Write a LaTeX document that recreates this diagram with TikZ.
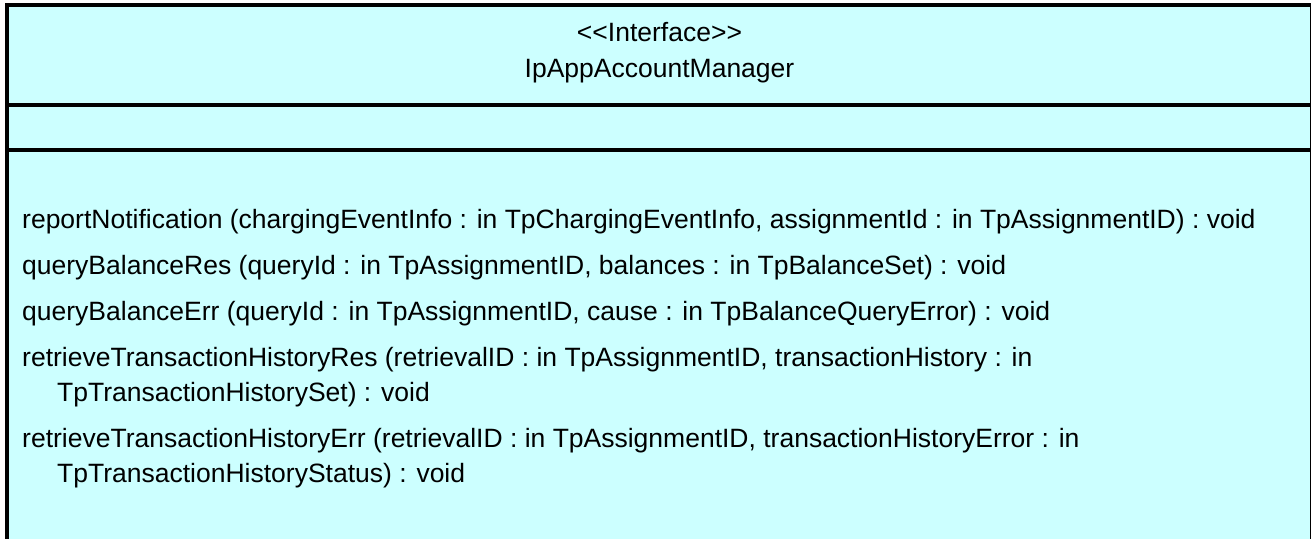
\documentclass[tikz,border=0pt]{standalone}
\usepackage{fontspec}
\setmainfont{Liberation Sans}
\definecolor{boxfill}{HTML}{CCFFFF}
\begin{document}
\begin{tikzpicture}[x=1pt,y=-1pt,
  optext/.style={anchor=base west, inner sep=0pt, font=\fontsize{26.5}{32}\selectfont},
  ttltext/.style={anchor=base, inner sep=0pt, font=\fontsize{26.5}{32}\selectfont},
  border/.style={line width=4pt, line cap=rect}]
\useasboundingbox (0,0) rectangle (1311,538);
\clip (0,0) rectangle (1311,538);
\fill[boxfill] (7,5) rectangle (1312,560);
\draw[border] (7,560) -- (7,5) -- (1312,5) -- (1312,560);
\draw[border] (7,105) -- (1312,105);
\draw[border] (7,150) -- (1312,150);
\node[ttltext] (stereo) at (659.5,41) {<\kern0pt<Interface>\kern0pt>};
\node[ttltext] (cname) at (659.5,77) {IpAppAccountManager};
\node[optext] (op1) at (22,228) {reportNotification (chargingEventInfo : in TpChargingEventInfo, assignmentId : in TpAssignmentID) : void};
\node[optext] (op2) at (22,274) {queryBalanceRes (queryId : in TpAssignmentID, balances : in TpBalanceSet) : void};
\node[optext] (op3) at (22,320) {queryBalanceErr (queryId : in TpAssignmentID, cause : in TpBalanceQueryError) : void};
\node[optext] (op4) at (22,366) {retrieveTransactionHistoryRes (retrievalID : in TpAssignmentID, transactionHistory : in};
\node[optext] (op4b) at (57,401) {TpTransactionHistorySet) : void};
\node[optext] (op5) at (22,447) {retrieveTransactionHistoryErr (retrievalID : in TpAssignmentID, transactionHistoryError : in};
\node[optext] (op5b) at (57,482) {TpTransactionHistoryStatus) : void};
\end{tikzpicture}
\end{document}
